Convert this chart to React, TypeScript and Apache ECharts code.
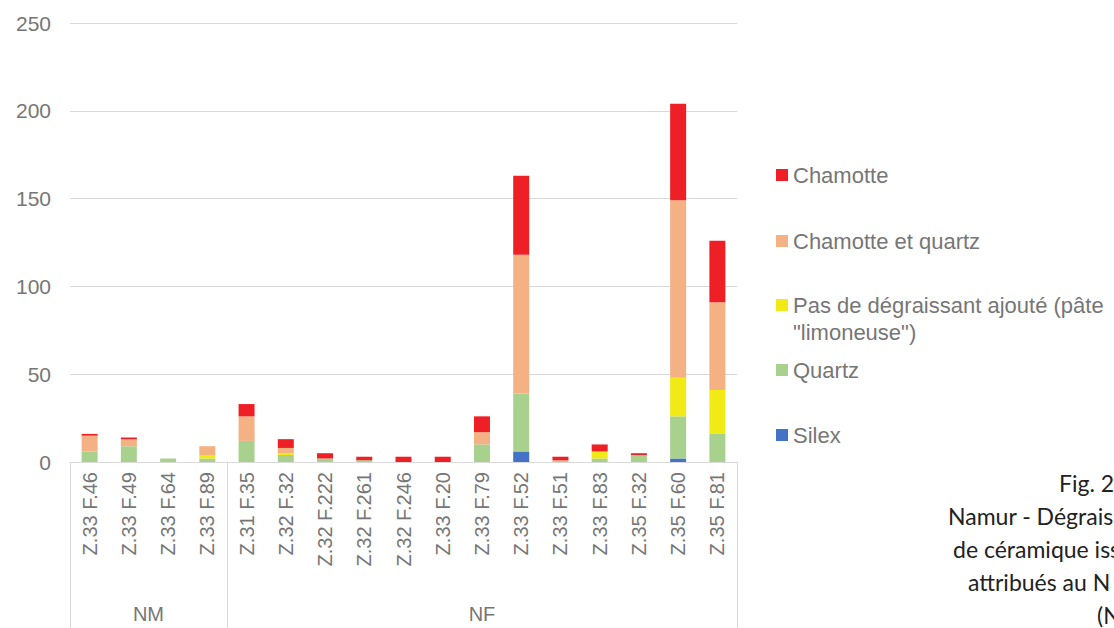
import React, { useEffect, useRef } from "react";
import * as echarts from "echarts";

const categories = [
  "Z.33 F.46", "Z.33 F.49", "Z.33 F.64", "Z.33 F.89",
  "Z.31 F.35", "Z.32 F.32", "Z.32 F.222", "Z.32 F.261", "Z.32 F.246",
  "Z.33 F.20", "Z.33 F.79", "Z.33 F.52", "Z.33 F.51", "Z.33 F.83",
  "Z.35 F.32", "Z.35 F.60", "Z.35 F.81",
];
const groupNames = ["NM", "NF"];
const groupSizes = [4, 13];

const silex = [0, 0, 0, 0, 0, 0, 0, 0, 0, 0, 0, 6, 0, 0, 0, 2, 0];
const quartz = [6, 9, 2, 2, 12, 4, 2, 1, 0, 0, 10, 33, 0, 2, 4, 24, 16];
const pasDeDegraissant = [0, 0, 0, 2, 0, 1, 0, 0, 0, 0, 0, 0, 0, 4, 0, 22, 25];
const chamotteEtQuartz = [9, 4, 0, 5, 14, 3, 0, 0, 0, 0, 7, 79, 1, 0, 0, 101, 50];
const chamotte = [1, 1, 0, 0, 7, 5, 3, 2, 3, 3, 9, 45, 2, 4, 1, 55, 35];

const yTicks = { min: 0, max: 250, interval: 50 };

const PAS_NAME = 'Pas de dégraissant ajouté (pâte "limoneuse")';
const PAS_LINE1 = "Pas de dégraissant ajouté (pâte";
const PAS_LINE2 = '"limoneuse")';

const captionLines = ["Fig. 26", "Namur - Dégraissants", "de céramique issus", "attribués au N", "(N"];

const seriesDefs = [
  { name: "Silex", data: silex, color: "#4472C4" },
  { name: "Quartz", data: quartz, color: "#A9D18E" },
  { name: PAS_NAME, data: pasDeDegraissant, color: "#F2EA14" },
  { name: "Chamotte et quartz", data: chamotteEtQuartz, color: "#F4B183" },
  { name: "Chamotte", data: chamotte, color: "#EE1F25" },
];

export default function App() {
  const ref = useRef<HTMLDivElement>(null);
  useEffect(() => {
    if (!ref.current) return;
    const chart = echarts.init(ref.current, undefined, { renderer: "svg" });
    const font = "Liberation Sans, Arial, sans-serif";
    const txtColor = "#767676";
    const lineColor = "#D9D9D9";

    const bounds: number[] = [0];
    groupSizes.forEach((s) => bounds.push(bounds[bounds.length - 1] + s));
    const centers = groupSizes.map((s, i) => bounds[i] + s / 2);

    const legendCenters = [175, 241, 305, 370, 435];
    const legendOrder = ["Chamotte", "Chamotte et quartz", PAS_NAME, "Quartz", "Silex"];
    const legends = legendOrder.map((n, i) => ({
      data: [n],
      left: 776,
      top: legendCenters[i] - 11,
      orient: "vertical",
      padding: 0,
      itemWidth: 12,
      itemHeight: 12,
      selectedMode: false,
      icon: "rect",
      textStyle: { fontFamily: font, fontSize: 22, color: txtColor, lineHeight: 22 },
      formatter: (name: string) => (name === PAS_NAME ? PAS_LINE1 : name),
    }));

    const option = {
      animation: false,
      backgroundColor: "#ffffff",
      grid: { left: 70, right: 377, top: 23, bottom: 166, containLabel: false },
      legend: legends,
      xAxis: [
        {
          type: "category",
          data: categories,
          axisLine: { show: true, lineStyle: { color: lineColor, width: 1 } },
          axisTick: { show: false },
          axisLabel: {
            interval: 0,
            rotate: 90,
            margin: 10,
            fontFamily: font,
            fontSize: 20,
            color: txtColor,
          },
        },
        {
          type: "value",
          position: "bottom",
          min: 0,
          max: categories.length,
          axisLine: { show: false },
          splitLine: { show: false },
          axisTick: {
            show: true,
            customValues: bounds,
            length: 175,
            lineStyle: { color: lineColor, width: 1 },
          },
          axisLabel: {
            show: true,
            customValues: centers,
            margin: 142,
            fontFamily: font,
            fontSize: 20,
            color: txtColor,
            formatter: (v: number) => {
              const idx = centers.findIndex((c) => Math.abs(c - v) < 1e-6);
              return idx >= 0 ? groupNames[idx] : "";
            },
          },
        },
      ],
      yAxis: {
        type: "value",
        min: yTicks.min,
        max: yTicks.max,
        interval: yTicks.interval,
        axisLine: { show: false },
        axisTick: { show: false },
        splitLine: { show: true, lineStyle: { color: lineColor, width: 1 } },
        axisLabel: { fontFamily: font, fontSize: 21, color: txtColor, margin: 19 },
      },
      series: seriesDefs.map((s) => ({
        name: s.name,
        type: "bar",
        stack: "total",
        xAxisIndex: 0,
        barWidth: 16,
        data: s.data,
        itemStyle: { color: s.color },
      })),
      graphic: [
        {
          type: "text",
          left: 793,
          top: 321,
          style: { text: PAS_LINE2, font: `22px ${font}`, fill: txtColor },
        },
        ...captionLines.map((t, i) => ({
          type: "text",
          x: [1059, 948, 953, 968, 1097][i],
          y: 483 + i * 33,
          style: {
            text: t,
            font: `23px Lato, 'Open Sans', sans-serif`,
            fill: "#222222",
            verticalAlign: "middle",
            align: "left",
          },
        })),
      ],
    };
    chart.setOption(option as any);
    return () => chart.dispose();
  }, []);
  return (
    <div
      ref={ref}
      style={{ position: "absolute", left: 0, top: 0, width: 1114, height: 628 }}
    />
  );
}
